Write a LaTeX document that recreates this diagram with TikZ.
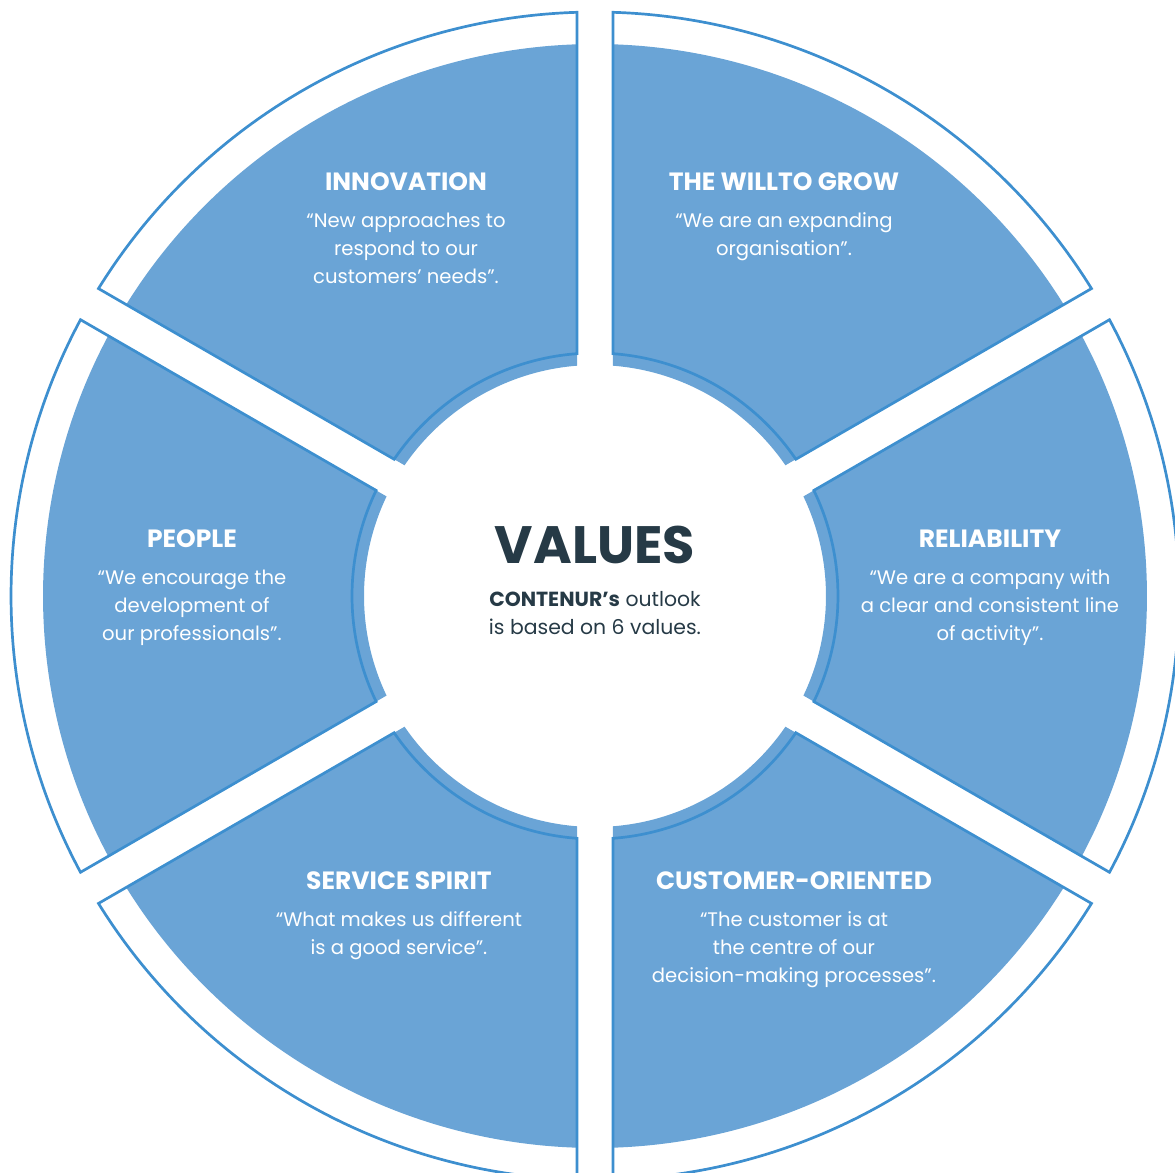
\documentclass[tikz,border=0pt]{standalone}
\usepackage{fontspec}
\setmainfont{Poppins}
\usetikzlibrary{positioning}
\definecolor{segblue}{HTML}{6AA4D6}
\definecolor{rimblue}{HTML}{3D8FCF}
\definecolor{inkdark}{HTML}{263A46}

\begin{document}
\begin{tikzpicture}[x=0.5pt,y=0.5pt,
  ttl/.style={font=\fontsize{12.5}{15}\selectfont\bfseries,text=white,inner sep=0pt},
  txt/.style={font=\fontsize{9.8}{14}\selectfont,text=white,align=center,inner sep=0pt}]
\useasboundingbox (-595,596) rectangle (580,-577);
% half gap between the segments is 18, turned into angles at each radius
\pgfmathsetmacro\fin{30-asin(18/231)} \pgfmathsetmacro\fout{30-asin(18/552)}
\pgfmathsetmacro\rin{30-asin(18/243)} \pgfmathsetmacro\rout{30-asin(18/584)}
\foreach \a in {0,60,...,300} {
  \fill[segblue] ({\a+\fin}:231) -- ({\a+\fout}:552) arc[start angle=\a+\fout,end angle=\a-\fout,radius=552]
    -- ({\a-\fin}:231) arc[start angle=\a-\fin,end angle=\a+\fin,radius=231] -- cycle;
  \draw[rimblue,line width=1.35pt] ({\a+\rin}:243) -- ({\a+\rout}:584) arc[start angle=\a+\rout,end angle=\a-\rout,radius=584]
    -- ({\a-\rin}:243) arc[start angle=\a-\rin,end angle=\a+\rin,radius=243] -- cycle;
}
% segment texts
\node[ttl] (innovation) at (-189,414) {INNOVATION};
\node[txt,below=10.5pt of innovation] (innovationtxt) {“New approaches to\\respond to our\\customers’ needs”.};
\node[ttl] (grow) at (189,414) {THE WILLTO GROW};
\node[txt,below=10.5pt of grow] (growtxt) {“We are an expanding\\organisation”.};
\node[ttl] (reliability) at (395,57) {RELIABILITY};
\node[txt,below=10.5pt of reliability] (reliabilitytxt) {“We are a company with\\a clear and consistent line\\of activity”.};
\node[ttl] (people) at (-403,57) {PEOPLE};
\node[txt,below=10.5pt of people] (peopletxt) {“We encourage the\\development of\\our professionals”.};
\node[ttl] (service) at (-196,-285) {SERVICE SPIRIT};
\node[txt,below=10.5pt of service] (servicetxt) {“What makes us different\\is a good service”.};
\node[ttl] (customer) at (199,-285) {CUSTOMER-ORIENTED};
\node[txt,below=10.5pt of customer] (customertxt) {“The customer is at\\the centre of our\\decision-making processes”.};
% centre
\node[ttl,text=inkdark,font=\fontsize{26.3}{30}\selectfont\bfseries] (values) at (0,51) {VALUES};
\node[txt,text=inkdark,font=\fontsize{10.2}{14}\selectfont,below=13.5pt of values] (valuestxt) {\textbf{CONTENUR’s} outlook\\is based on 6 values.};
\end{tikzpicture}
\end{document}
